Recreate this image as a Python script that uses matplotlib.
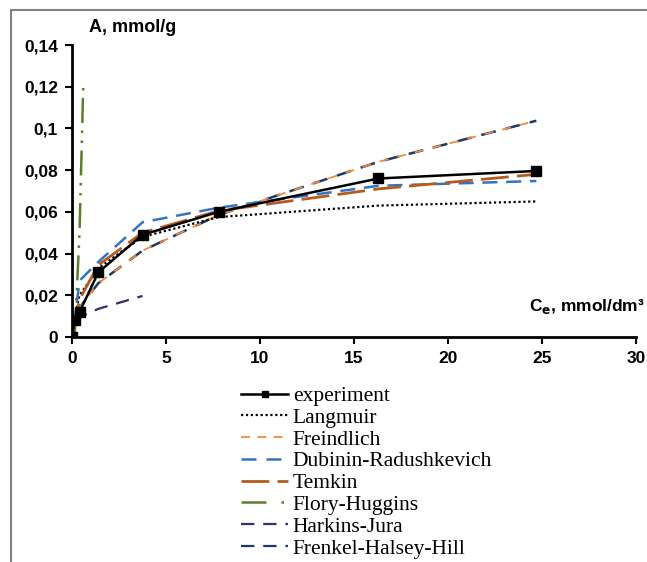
import matplotlib
matplotlib.use("Agg")
import matplotlib.pyplot as plt
from matplotlib.lines import Line2D

# equilibrium concentration, mmol/dm3
ce_exp = [0, 0.15, 0.4, 1.4, 3.75, 7.8, 16.3, 24.7]
a_exp = [0, 0.008, 0.012, 0.031, 0.049, 0.060, 0.076, 0.0796]

ce_fit = [0, 0.15, 0.4, 1.4, 3.75, 7.8, 16.3, 24.7]
a_langmuir = [0, 0.010, 0.020, 0.033, 0.048, 0.0575, 0.063, 0.065]
a_freundlich = [0, 0.0088, 0.0141, 0.0258, 0.0414, 0.0585, 0.084, 0.1037]
a_fhh = [0, 0.0088, 0.0141, 0.0258, 0.0414, 0.0585, 0.084, 0.1037]

ce_dr = [0.1, 0.4, 1.4, 3.75, 7.8, 16.3, 24.7]
a_dr = [0.005, 0.027, 0.036, 0.055, 0.062, 0.0725, 0.0748]

ce_temkin = [0.07, 0.4, 1.4, 3.75, 7.8, 16.3, 24.7]
a_temkin = [0.003, 0.018, 0.0345, 0.050, 0.0605, 0.071, 0.078]

ce_fh = [0.15, 0.4, 0.6]
a_fh = [0.002, 0.05, 0.121]

ce_hj = [0.15, 0.4, 1.4, 3.75]
a_hj = [0.0082, 0.0094, 0.0135, 0.0197]

x_ticks = [0, 5, 10, 15, 20, 25, 30]
y_ticks = [0, 0.02, 0.04, 0.06, 0.08, 0.1, 0.12, 0.14]
y_tick_labels = ["0", "0,02", "0,04", "0,06", "0,08", "0,1", "0,12", "0,14"]

fig = plt.figure(figsize=(6.47, 5.62), dpi=100)
ax = fig.add_axes([72 / 647, 1 - 337 / 562, (636 - 72) / 647, (337 - 45) / 562])

ax.plot(ce_fit, a_fhh, color="#1F3864", lw=1.8, ls=(0, (6, 4)), label="_fhh_line")
ax.plot(ce_fit, a_freundlich, color="#F28A3A", lw=1.3, ls=(5, (5, 5)), label="_fr_line")
ax.plot(ce_fit, a_langmuir, color="black", lw=1.6, ls=(0, (1, 1.2)), label="_l")
ax.plot(ce_dr, a_dr, color="#3473C0", lw=1.8, ls=(0, (6, 3.5)), label="_dr")
ax.plot(ce_temkin, a_temkin, color="#B85A1E", lw=2.0, ls=(0, (10, 3)), label="_t")
ax.plot(ce_fh, a_fh, color="#5B7F2A", lw=1.8, ls=(0, (10, 3, 1, 3, 1, 3)), label="_fh")
ax.plot(ce_hj, a_hj, color="#3F2A6B", lw=1.6, ls=(0, (6, 4)), label="_hj")
ax.plot(ce_exp, a_exp, color="black", lw=1.8, marker="s", ms=6.5, label="_e")

ax.set_xlim(0, 30)
ax.set_ylim(0, 0.14)
ax.set_xticks(x_ticks)
ax.set_xticklabels([str(v) for v in x_ticks])
ax.set_yticks(y_ticks)
ax.set_yticklabels(y_tick_labels)
for s in ["top", "right"]:
    ax.spines[s].set_visible(False)
for s in ["left", "bottom"]:
    ax.spines[s].set_linewidth(2)
ax.tick_params(direction="out", width=1.5, length=5, labelsize=12.5, pad=5)
for lab in ax.get_xticklabels() + ax.get_yticklabels():
    lab.set_fontweight("bold")
    lab.set_family("Liberation Sans")
ax.patch.set_alpha(0)

fig.text(89 / 647, 1 - 28 / 562, "A, mmol/g", fontsize=13, fontweight="bold",
         family="Liberation Sans", va="center", ha="left")
fig.text(645 / 647, 1 - 307 / 562, r"C$_{\mathbf{e}}$, mmol/dm³", fontsize=12.5,
         fontweight="bold", family="Liberation Sans", va="center", ha="right")

# legend
handles = [
    Line2D([], [], color="black", lw=1.8, marker="s", ms=5),
    Line2D([], [], color="black", lw=1.6, ls=(0, (1, 1.2))),
    Line2D([], [], color="#F28A3A", lw=1.3, ls=(0, (5, 4))),
    Line2D([], [], color="#3473C0", lw=1.8, ls=(0, (6, 4))),
    Line2D([], [], color="#B85A1E", lw=2.0, ls=(0, (10, 3))),
    Line2D([], [], color="#5B7F2A", lw=1.8, ls=(0, (10, 6, 1, 6, 1, 6))),
    Line2D([], [], color="#3F2A6B", lw=1.6, ls=(0, (6, 4))),
    Line2D([], [], color="#1F3864", lw=1.6, ls=(0, (6, 4))),
]
labels = ["experiment", "Langmuir", "Freindlich", "Dubinin-Radushkevich", "Temkin",
          "Flory-Huggins", "Harkins-Jura", "Frenkel-Halsey-Hill"]
fig.legend(handles, labels, loc="upper left", bbox_to_anchor=(241 / 647, 1 - 386 / 562),
           frameon=False, borderpad=0, borderaxespad=0, handlelength=2.2,
           handletextpad=0.2, labelspacing=0.08,
           prop={"family": "Liberation Serif", "size": 15.5})

# outer frame
fig.add_artist(Line2D([11 / 647, 1], [1 - 10 / 562, 1 - 10 / 562], color="#808080", lw=1.5))
fig.add_artist(Line2D([11 / 647, 11 / 647], [0, 1 - 10 / 562], color="#808080", lw=1.5))

fig.savefig("out.png", dpi=100)
